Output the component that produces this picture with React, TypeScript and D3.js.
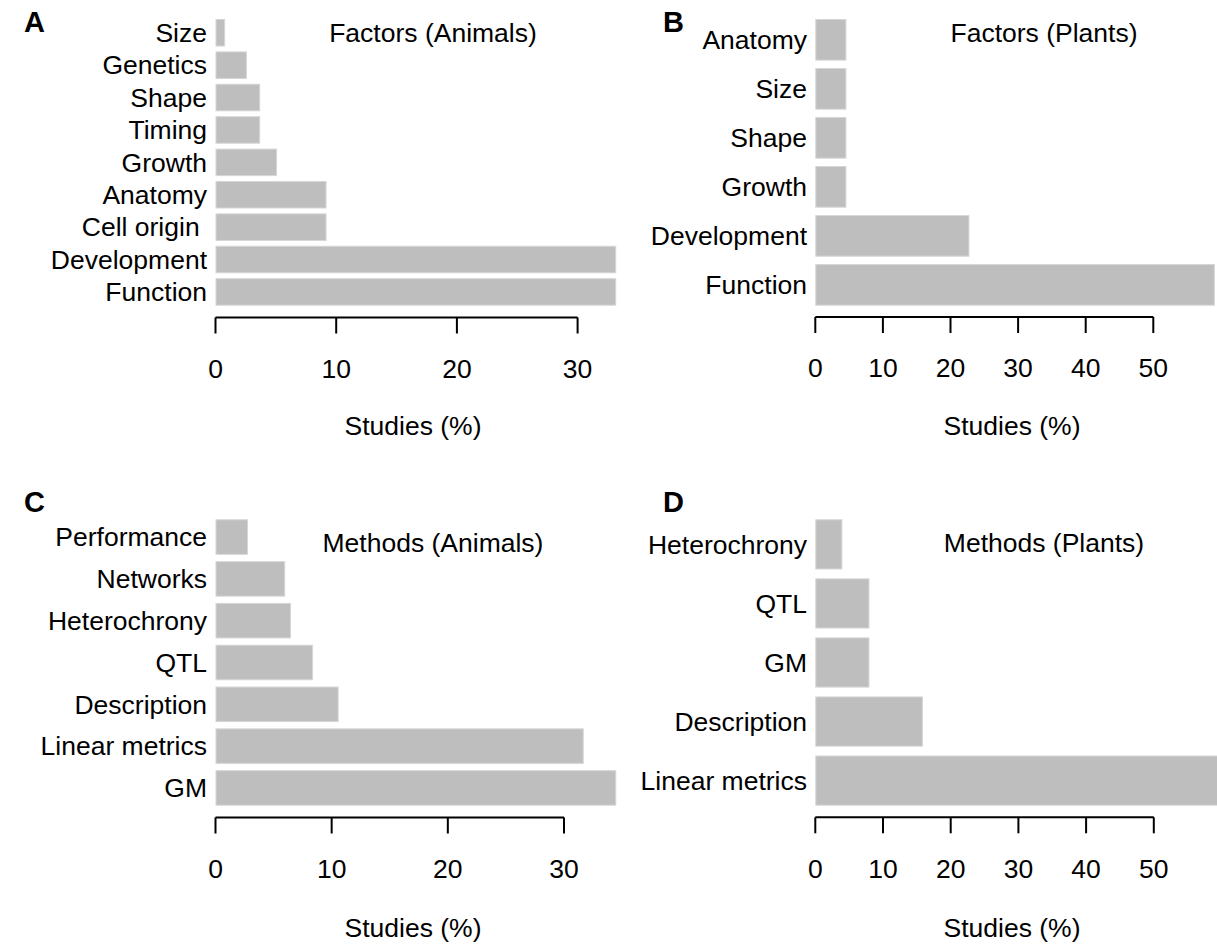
import React from 'react';
import * as d3 from 'd3';

// ---- data ----
const catsA = ['Size', 'Genetics', 'Shape', 'Timing', 'Growth', 'Anatomy', 'Cell origin ', 'Development', 'Function'];
const valsA = [0.8, 2.6, 3.7, 3.7, 5.1, 9.2, 9.2, 33.2, 33.2];
const catsB = ['Anatomy', 'Size', 'Shape', 'Growth', 'Development', 'Function'];
const valsB = [4.6, 4.6, 4.6, 4.6, 22.8, 59.1];
const catsC = ['Performance', 'Networks', 'Heterochrony', 'QTL', 'Description', 'Linear metrics', 'GM'];
const valsC = [2.8, 6.0, 6.5, 8.4, 10.6, 31.7, 34.5];
const catsD = ['Heterochrony', 'QTL', 'GM', 'Description', 'Linear metrics'];
const valsD = [4.0, 8.0, 8.0, 15.9, 60];
const ticksAnimals = [0, 10, 20, 30];
const ticksPlants = [0, 10, 20, 30, 40, 50];
const xTitle = 'Studies (%)';

const FONT = '"Liberation Sans", Arial, Helvetica, sans-serif';
const FS = 26.5;

type PanelCfg = {
  letter: string; title: string; cats: string[]; vals: number[]; ticks: number[];
  px0: number; pxMax: number; yTop: number; yBottom: number; axisY: number;
  labelX: number; titleX: number; titleY: number; letterX: number; letterY: number;
  xlabX: number; xlabY: number;
};

const panels: PanelCfg[] = [
  { letter: 'A', title: 'Factors (Animals)', cats: catsA, vals: valsA, ticks: ticksAnimals,
    px0: 215.5, pxMax: 577.6, yTop: 19, yBottom: 305.7, axisY: 317.5,
    labelX: 207, titleX: 433, titleY: 33, letterX: 24, letterY: 22, xlabX: 413, xlabY: 426 },
  { letter: 'B', title: 'Factors (Plants)', cats: catsB, vals: valsB, ticks: ticksPlants,
    px0: 815.3, pxMax: 1153.3, yTop: 19, yBottom: 305.7, axisY: 317,
    labelX: 807, titleX: 1044, titleY: 33, letterX: 663, letterY: 22, xlabX: 1012, xlabY: 426 },
  { letter: 'C', title: 'Methods (Animals)', cats: catsC, vals: valsC, ticks: ticksAnimals,
    px0: 215.5, pxMax: 564.0, yTop: 519.3, yBottom: 805.7, axisY: 817.5,
    labelX: 207, titleX: 433, titleY: 543, letterX: 24, letterY: 502, xlabX: 413, xlabY: 928 },
  { letter: 'D', title: 'Methods (Plants)', cats: catsD, vals: valsD, ticks: ticksPlants,
    px0: 815.3, pxMax: 1153.8, yTop: 519.3, yBottom: 805.7, axisY: 817.3,
    labelX: 807, titleX: 1044, titleY: 543, letterX: 663, letterY: 502, xlabX: 1012, xlabY: 928 },
];

function Panel({ p }: { p: PanelCfg }) {
  const tmax = p.ticks[p.ticks.length - 1];
  const x = d3.scaleLinear().domain([0, tmax]).range([p.px0, p.pxMax]);
  const y = d3.scaleBand<string>().domain(p.cats).range([p.yTop, p.yBottom]).paddingInner(0.15).paddingOuter(0);
  const tickLen = 16;
  return (
    <g>
      <text x={p.letterX} y={p.letterY} dy="0.35em" fontFamily={FONT} fontWeight="bold" fontSize={29} fill="#000">{p.letter}</text>
      {p.cats.map((c, i) => (
        <g key={c}>
          <rect x={x(0) + 0.5} y={(y(c) as number) + 0.5} width={Math.max(0, x(p.vals[i]) - x(0) - 1)} height={y.bandwidth() - 1}
            fill="#bebebe" stroke="#d6d6d6" strokeWidth={1} />
          <text x={p.labelX} y={(y(c) as number) + y.bandwidth() / 2} dy="0.35em" textAnchor="end"
            fontFamily={FONT} fontSize={FS} fill="#000" style={{ whiteSpace: 'pre' }}>{c}</text>
        </g>
      ))}
      <text x={p.titleX} y={p.titleY} dy="0.35em" textAnchor="middle" fontFamily={FONT} fontSize={FS} fill="#000">{p.title}</text>
      <line x1={x(0)} x2={x(tmax)} y1={p.axisY} y2={p.axisY} stroke="#000" strokeWidth={2} />
      {p.ticks.map(t => (
        <g key={t}>
          <line x1={x(t)} x2={x(t)} y1={p.axisY} y2={p.axisY + tickLen} stroke="#000" strokeWidth={2} />
          <text x={x(t)} y={p.axisY + 51} dy="0.35em" textAnchor="middle" fontFamily={FONT} fontSize={FS} fill="#000">{t}</text>
        </g>
      ))}
      <text x={p.xlabX} y={p.xlabY} dy="0.35em" textAnchor="middle" fontFamily={FONT} fontSize={FS} fill="#000">{xTitle}</text>
    </g>
  );
}

export default function App() {
  return (
    <svg width={1217} height={946} viewBox="0 0 1217 946"
      style={{ position: 'absolute', left: 0, top: 0, background: '#fff' }}>
      <rect x={0} y={0} width={1217} height={946} fill="#fff" />
      {panels.map(p => <Panel key={p.letter} p={p} />)}
    </svg>
  );
}
